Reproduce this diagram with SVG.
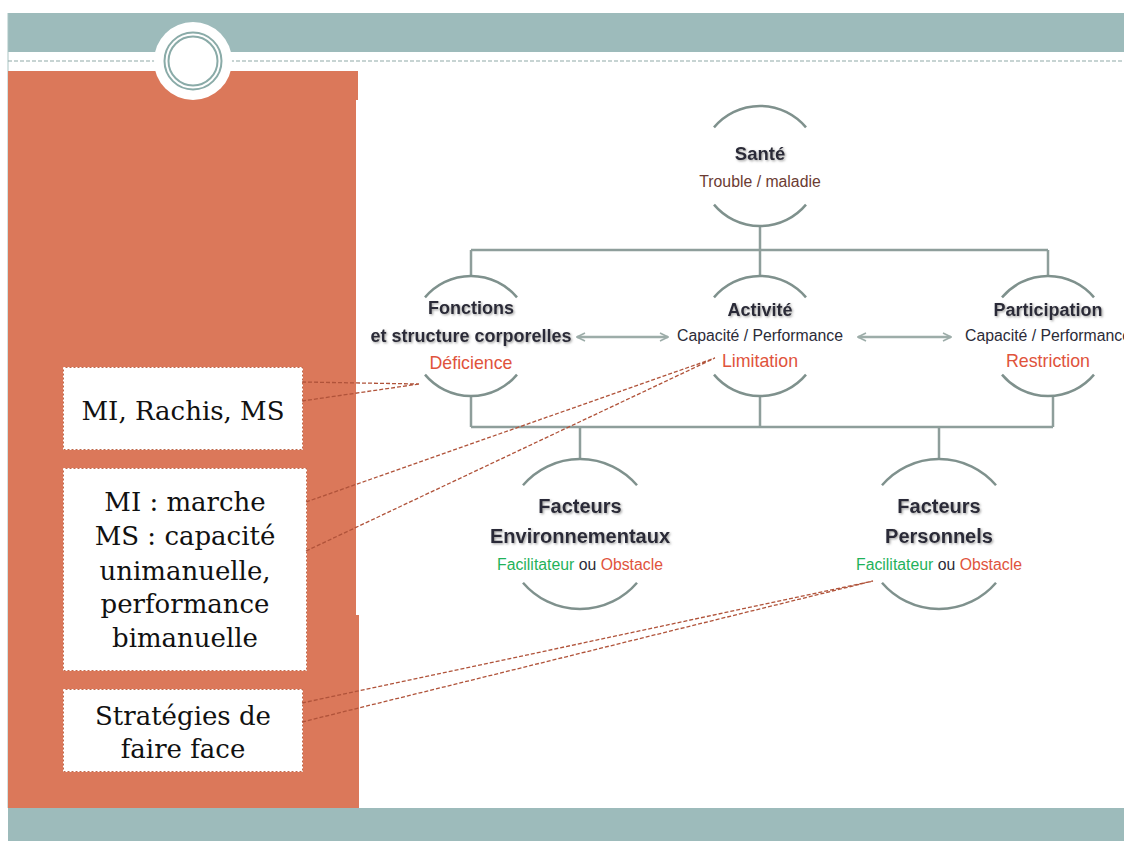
<svg xmlns="http://www.w3.org/2000/svg" width="1124" height="841" viewBox="0 0 1124 841">
<defs>
<style>
.ttl{font-family:"Liberation Sans",Arial,sans-serif;font-weight:bold;fill:#2b2b38;text-anchor:middle;filter:url(#sh)}
.sub{font-family:"Liberation Sans",Arial,sans-serif;font-size:15.8px;fill:#2b2b38;text-anchor:middle}
.red{font-family:"Liberation Sans",Arial,sans-serif;font-size:17.8px;fill:#e0533c;text-anchor:middle}
.arc{fill:none;stroke:#7f918d;stroke-width:2.5}
.ln{fill:none;stroke:#8e9e9b;stroke-width:2.5}
.arw{fill:none;stroke:#9dada9;stroke-width:2.5}
.cl{fill:none;stroke:#b0533a;stroke-width:1.3;stroke-dasharray:4 2}
.box{fill:#ffffff;stroke:#c0694c;stroke-width:1}
.boxd{fill:none;stroke:#ffffff;stroke-width:1;stroke-dasharray:2 2}
.ct{font-family:"DejaVu Serif",Georgia,serif;font-size:26px;fill:#111111;text-anchor:middle}
</style>
<filter id="sh" x="-10%" y="-30%" width="120%" height="160%">
<feDropShadow dx="1.2" dy="1.2" stdDeviation="1" flood-color="#7a7a7a" flood-opacity="0.7"/>
</filter>
<marker id="ah" viewBox="0 0 10 10" refX="9" refY="5" markerWidth="4" markerHeight="4" orient="auto-start-reverse" markerUnits="strokeWidth">
<path d="M1,1 L9,5 L1,9" fill="none" stroke="#9dada9" stroke-width="1.6"/>
</marker>
</defs>

<g id="background">
<rect x="0" y="0" width="1124" height="841" fill="#ffffff"/>
<rect x="8" y="13" width="1116" height="39" fill="#9dbbbb"/>
<line x1="8" y1="13" x2="8" y2="808" stroke="#a9c4c3" stroke-width="1"/>
<line x1="8" y1="61" x2="1124" y2="61" stroke="#8fa9a7" stroke-width="1" stroke-dasharray="4 2"/>
<path d="M8,71 H358 V100 H356 V615 H359 V808 H8 Z" fill="#db785a"/>
<rect x="8" y="808" width="1116" height="33" fill="#9dbbbb"/>
<circle cx="193" cy="61" r="39" fill="#ffffff"/>
<circle cx="193" cy="61" r="28.5" fill="none" stroke="#8aaba8" stroke-width="2"/>
<circle cx="193" cy="61" r="24.5" fill="none" stroke="#8aaba8" stroke-width="2"/>
</g>

<g id="connectors">
<path class="ln" d="M760,226 V250 M471,250 H1048 M471,250 V276 M760,250 V276 M1048,250 V276"/>
<path class="ln" d="M471,396 V427 M760,396 V427 M1053,396 V427 M471,427 H1053 M580,427 V459 M939,427 V459"/>
<line class="arw" x1="577" y1="337" x2="668" y2="337" marker-start="url(#ah)" marker-end="url(#ah)"/>
<line class="arw" x1="858" y1="337" x2="951" y2="337" marker-start="url(#ah)" marker-end="url(#ah)"/>
</g>

<g id="sante">
<path class="arc" d="M714,127.4 A60,60 0 0 1 806,127.4"/>
<path class="arc" d="M714,204.6 A60,60 0 0 0 806,204.6"/>
<text class="ttl" x="760" y="160" font-size="18.5">Santé</text>
<text class="sub" x="760" y="187" style="fill:#6b3b32">Trouble / maladie</text>
</g>

<g id="fonctions">
<path class="arc" d="M425,297.4 A60,60 0 0 1 517,297.4"/>
<path class="arc" d="M425,374.6 A60,60 0 0 0 517,374.6"/>
<text class="ttl" x="471" y="314" font-size="18">Fonctions</text>
<text class="ttl" x="471" y="342" font-size="18">et structure corporelles</text>
<text class="red" x="471" y="369">Déficience</text>
</g>

<g id="activite">
<path class="arc" d="M714,297.4 A60,60 0 0 1 806,297.4"/>
<path class="arc" d="M714,374.6 A60,60 0 0 0 806,374.6"/>
<text class="ttl" x="760" y="316" font-size="18">Activité</text>
<text class="sub" x="760" y="341">Capacité / Performance</text>
<text class="red" x="760" y="367">Limitation</text>
</g>

<g id="participation">
<path class="arc" d="M1002,297.4 A60,60 0 0 1 1094,297.4"/>
<path class="arc" d="M1002,374.6 A60,60 0 0 0 1094,374.6"/>
<text class="ttl" x="1048" y="316" font-size="18">Participation</text>
<text class="sub" x="1048" y="341">Capacité / Performance</text>
<text class="red" x="1048" y="367">Restriction</text>
</g>

<g id="facteurs-env">
<path class="arc" d="M523,485.3 A75,75 0 0 1 637,485.3"/>
<path class="arc" d="M523,582.7 A75,75 0 0 0 637,582.7"/>
<text class="ttl" x="580" y="513" font-size="20">Facteurs</text>
<text class="ttl" x="580" y="543" font-size="20">Environnementaux</text>
<text class="sub" x="580" y="570"><tspan fill="#1fb25a">Facilitateur</tspan> ou <tspan fill="#e0533c">Obstacle</tspan></text>
</g>

<g id="facteurs-perso">
<path class="arc" d="M882,485.3 A75,75 0 0 1 996,485.3"/>
<path class="arc" d="M882,582.7 A75,75 0 0 0 996,582.7"/>
<text class="ttl" x="939" y="513" font-size="20">Facteurs</text>
<text class="ttl" x="939" y="543" font-size="20">Personnels</text>
<text class="sub" x="939" y="570"><tspan fill="#1fb25a">Facilitateur</tspan> ou <tspan fill="#e0533c">Obstacle</tspan></text>
</g>

<g id="callout-1">
<rect class="box" x="63.5" y="367.5" width="239" height="82"/>
<rect class="boxd" x="63.5" y="367.5" width="239" height="82"/>
<path class="cl" d="M302,382 L419,384 M302,401 L419,384"/>
<text class="ct" x="183" y="420">MI, Rachis, MS</text>
</g>

<g id="callout-2">
<rect class="box" x="63.5" y="468.5" width="243" height="202"/>
<rect class="boxd" x="63.5" y="468.5" width="243" height="202"/>
<path class="cl" d="M306,502 L715,358 M306,551 L715,358"/>
<text class="ct" x="185" y="511">MI : marche</text>
<text class="ct" x="185" y="545">MS : capacité</text>
<text class="ct" x="185" y="580">unimanuelle,</text>
<text class="ct" x="185" y="613">performance</text>
<text class="ct" x="185" y="647">bimanuelle</text>
</g>

<g id="callout-3">
<rect class="box" x="63.5" y="689.5" width="239" height="82"/>
<rect class="boxd" x="63.5" y="689.5" width="239" height="82"/>
<path class="cl" d="M302,703 L873,581 M302,722 L873,581"/>
<text class="ct" x="183" y="725">Stratégies de</text>
<text class="ct" x="183" y="758">faire face</text>
</g>
</svg>
